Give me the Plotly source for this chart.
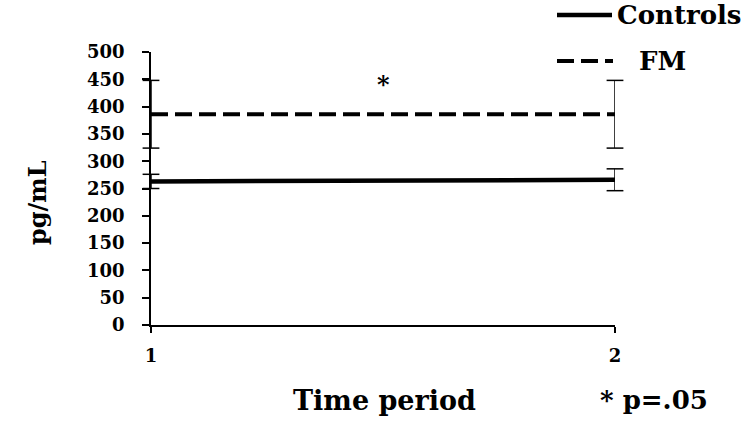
import plotly.graph_objects as go

# Measurement times and group means (pg/mL) with error bar half-widths
time_points = [1, 2]
controls_mean = [263, 266]
controls_err = [13, 20]
fm_mean = [386, 386]
fm_err = [62, 62]
y_ticks = [0, 50, 100, 150, 200, 250, 300, 350, 400, 450, 500]
series_names = ["Controls", "FM"]

FONT = "DejaVu Serif, Liberation Serif, serif"
W, H = 752, 423
L, R, T, B = 151, 137, 52, 98
PW, PH = W - L - R, H - T - B


def px_x(px):
    """Convert a page x pixel into a paper fraction."""
    return (px - L) / PW


def px_y(py):
    """Convert a page y pixel (from top) into a paper fraction."""
    return (H - B - py) / PH


fig = go.Figure()

styles = [dict(color="black", width=4.5),
          dict(color="black", width=4, dash="17px,7px")]
for name, mean, err, st in zip(series_names, [controls_mean, fm_mean],
                                [controls_err, fm_err], styles):
    fig.add_trace(go.Scatter(
        x=time_points, y=mean, name=name, mode="lines", line=st,
        error_y=dict(type="data", array=err, visible=True,
                     color="black", thickness=1.5, width=0),
        showlegend=False,
    ))
    # error bar caps
    caps_x = time_points + time_points
    caps_y = [m + e for m, e in zip(mean, err)] + [m - e for m, e in zip(mean, err)]
    fig.add_trace(go.Scatter(
        x=caps_x, y=caps_y, mode="markers", showlegend=False, hoverinfo="skip",
        marker=dict(symbol="line-ew", size=12, color="black",
                    line=dict(color="black", width=1.5)),
        cliponaxis=False,
    ))

# Legend drawn at the top right
shapes = [
    dict(type="line", xref="paper", yref="paper",
         x0=px_x(557), x1=px_x(612), y0=px_y(15), y1=px_y(15),
         line=dict(color="black", width=4.5)),
    dict(type="line", xref="paper", yref="paper",
         x0=px_x(557), x1=px_x(613), y0=px_y(61), y1=px_y(61),
         line=dict(color="black", width=4, dash="17px,7px")),
]
legend_font = dict(family=FONT, size=26, color="black", weight="bold")
annotations = [
    dict(text=series_names[0], xref="paper", yref="paper", x=px_x(615), y=px_y(15),
         xanchor="left", yanchor="middle", showarrow=False, font=legend_font),
    dict(text=series_names[1], xref="paper", yref="paper", x=px_x(637), y=px_y(61),
         xanchor="left", yanchor="middle", showarrow=False, font=legend_font),
    dict(text="pg/mL", textangle=-90, xref="paper", yref="paper",
         x=px_x(37), y=px_y(203), xanchor="center", yanchor="middle", showarrow=False,
         font=dict(family=FONT, size=24, color="black", weight="bold")),
    dict(text="Time period", xref="paper", yref="paper",
         x=px_x(384), y=px_y(400), xanchor="center", yanchor="middle", showarrow=False,
         font=dict(family=FONT, size=27, color="black", weight="bold")),
    dict(text="* p=.05", xref="paper", yref="paper",
         x=px_x(654), y=px_y(400), xanchor="center", yanchor="middle", showarrow=False,
         font=dict(family=FONT, size=26, color="black", weight="bold")),
    dict(text="*", x=1.5, y=440, showarrow=False,
         font=dict(family=FONT, size=24, color="black", weight="bold")),
]

fig.update_layout(
    width=W, height=H,
    margin=dict(l=L, r=R, t=T, b=B, autoexpand=False),
    paper_bgcolor="white", plot_bgcolor="white",
    font=dict(family=FONT, color="black"),
    showlegend=False,
    shapes=shapes,
    annotations=annotations,
    xaxis=dict(
        range=[1, 2], tickvals=time_points, ticktext=["1", "2"],
        showline=True, linecolor="black", linewidth=1.5,
        ticks="outside", ticklen=6, tickwidth=1.5, tickcolor="black",
        ticklabelstandoff=8,
        tickfont=dict(family=FONT, size=18, color="black", weight="bold"),
        showgrid=False, zeroline=False,
    ),
    yaxis=dict(
        range=[0, 500], tickvals=y_ticks,
        showline=True, linecolor="black", linewidth=1.5,
        ticks="outside", ticklen=7, tickwidth=1.5, tickcolor="black",
        ticklabelstandoff=14,
        tickfont=dict(family=FONT, size=18, color="black", weight="bold"),
        showgrid=False, zeroline=False,
    ),
)

fig.write_html("out.html")
